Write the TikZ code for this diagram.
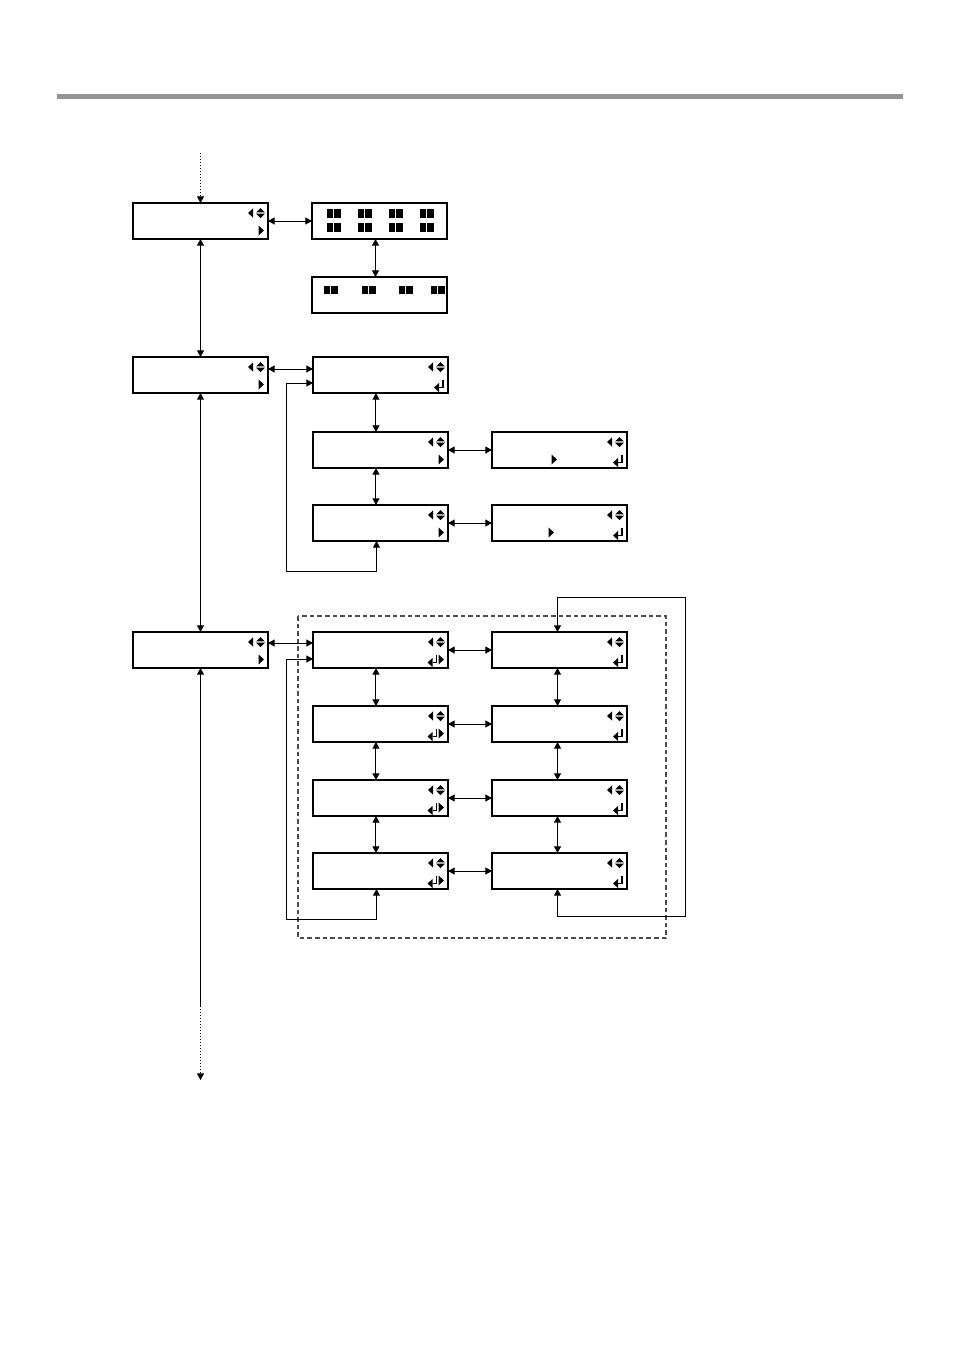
\documentclass[tikz,border=0pt]{standalone}
\usetikzlibrary{arrows.meta,calc}
\begin{document}
\begin{tikzpicture}[x=0.75pt,y=-0.75pt,
  lcd/.style={draw=black,line width=0.9pt,minimum width=101.25pt,minimum height=27pt,inner sep=0pt,outer sep=0pt,anchor=north west},
  conn/.style={line width=0.75pt,{Triangle[length=5pt,width=5.25pt]}-{Triangle[length=5pt,width=5.25pt]}},
  tipstart/.style={line width=0.75pt,{Triangle[length=5pt,width=5.25pt]}-},
  dots/.style={line width=0.75pt,dash pattern=on 0.75pt off 1.5pt},
  frame/.style={draw=black!70,line width=0.9pt,dash pattern=on 3.4pt off 2.25pt},
  ud/.pic={
    \fill (-20,10) -- (-14.8,5.3) -- (-14.8,14.7) -- cycle;
    \fill (-11.8,9.3) -- (-7.5,5) -- (-3.2,9.3) -- cycle;
    \fill (-11.8,10.7) -- (-7.5,15) -- (-3.2,10.7) -- cycle;
  },
  rt/.pic={\fill (-9.5,22.5) -- (-4,27.5) -- (-9.5,32.5) -- cycle;},
  ret/.pic={
    \draw[line width=1.1pt] (0,22.5) -- (0,30.5) -- (-4,30.5);
    \fill (-9,30.5) -- (-4,26) -- (-4,35) -- cycle;
  },
  pair/.pic={\fill (0,0) rectangle (6.4,8.8); \fill (7.2,0) rectangle (13.6,8.8);}
]
\useasboundingbox (0,0) rectangle (954,1350);

% top bar
\fill[black!42] (57,94) rectangle (903,99);

% boxes
\node[lcd] (A1) at (133,203) {};
\node[lcd] (B1) at (312,203) {};
\node[lcd] (B2) at (312,277) {};
\node[lcd] (A2) at (133,357) {};
\node[lcd] (C1) at (313,357) {};
\node[lcd] (C2) at (313,432) {};
\node[lcd] (D2) at (492,432) {};
\node[lcd] (C3) at (313,505) {};
\node[lcd] (D3) at (492,505) {};
\node[lcd] (A3) at (133,632) {};
\node[lcd] (E1) at (313,632) {};
\node[lcd] (F1) at (492,632) {};
\node[lcd] (E2) at (313,706) {};
\node[lcd] (F2) at (492,706) {};
\node[lcd] (E3) at (313,780) {};
\node[lcd] (F3) at (492,780) {};
\node[lcd] (E4) at (313,853) {};
\node[lcd] (F4) at (492,853) {};

% icons
\foreach \n in {A1,A2,A3,C1,C2,C3,D2,D3,E1,E2,E3,E4,F1,F2,F3,F4}{
  \pic at (\n.north east) {ud};
}
\foreach \n in {A1,A2,A3,C2,C3,E1,E2,E3,E4}{
  \pic at (\n.north east) {rt};
}
\foreach \n in {C1,D2,D3,F1,F2,F3,F4}{
  \pic at ([xshift=-3.75pt]\n.north east) {ret};
}
\foreach \n in {E1,E2,E3,E4}{
  \pic at ([xshift=-8.6pt]\n.north east) {ret};
}
\pic at ([xshift=-49.5pt]D2.north east) {rt};
\pic at ([xshift=-51.75pt]D3.north east) {rt};

% squares
\foreach \dx in {15,46,77,108}{
  \pic at ([xshift=\dx*0.75pt,yshift=-4.5pt]B1.north west) {pair};
  \pic at ([xshift=\dx*0.75pt,yshift=-15pt]B1.north west) {pair};
}
\foreach \dx in {12,50,87,119}{
  \pic at ([xshift=\dx*0.75pt,yshift=-6.5pt]B2.north west) {pair};
}

% dashed frame
\draw[frame] (298,616) rectangle (666,938);

% coordinates for free ends and bends
\coordinate (top) at (200.5,153);
\coordinate (mainEnd) at (200.5,1006);
\coordinate (bottom) at (200.5,1080);
\coordinate (cL) at (286,571);
\coordinate (eL) at (286,919);
\coordinate (rB) at (685,916);
\coordinate (rT) at (685,597);

% main spine
\draw[dots,-{Triangle[length=5pt,width=5.25pt]}] (top) -- (A1.north);
\draw[conn] (A1.south) -- (A2.north);
\draw[conn] (A2.south) -- (A3.north);
\draw[tipstart] (A3.south) -- (mainEnd);
\draw[dots,-{Triangle[length=5pt,width=5.25pt]}] (mainEnd) -- (bottom);

% first branch
\draw[conn] (A1.east) -- (B1.west);
\draw[conn] ([xshift=-3pt]B1.south) -- ([xshift=-3pt]B2.north);

% second branch
\draw[conn] ([yshift=4.5pt]A2.east) -- ([yshift=4.5pt]C1.west);
\draw[conn] ([xshift=-3.4pt]C1.south) -- ([xshift=-3.4pt]C2.north);
\draw[conn] ([xshift=-3.4pt]C2.south) -- ([xshift=-3.4pt]C3.north);
\draw[conn] (C2.east) -- (D2.west);
\draw[conn] (C3.east) -- (D3.west);
\draw[conn] ([xshift=-3pt]C3.south) |- (cL) |- ([yshift=-6pt]C1.west);

% third branch
\draw[conn] ([yshift=5.25pt]A3.east) -- ([yshift=5.25pt]E1.west);
\draw[conn] ([xshift=-3.4pt]E1.south) -- ([xshift=-3.4pt]E2.north);
\draw[conn] ([xshift=-3.4pt]E2.south) -- ([xshift=-3.4pt]E3.north);
\draw[conn] ([xshift=-3.4pt]E3.south) -- ([xshift=-3.4pt]E4.north);
\draw[conn] ([xshift=-1.5pt]F1.south) -- ([xshift=-1.5pt]F2.north);
\draw[conn] ([xshift=-1.5pt]F2.south) -- ([xshift=-1.5pt]F3.north);
\draw[conn] ([xshift=-1.5pt]F3.south) -- ([xshift=-1.5pt]F4.north);
\draw[conn] (E1.east) -- (F1.west);
\draw[conn] (E2.east) -- (F2.west);
\draw[conn] (E3.east) -- (F3.west);
\draw[conn] (E4.east) -- (F4.west);
\draw[conn] ([xshift=-3pt]E4.south) |- (eL) |- ([yshift=-6.75pt]E1.west);
\draw[conn] ([xshift=-1.5pt]F4.south) |- (rB) -- (rT) -| ([xshift=-1.5pt]F1.north);
\end{tikzpicture}
\end{document}
